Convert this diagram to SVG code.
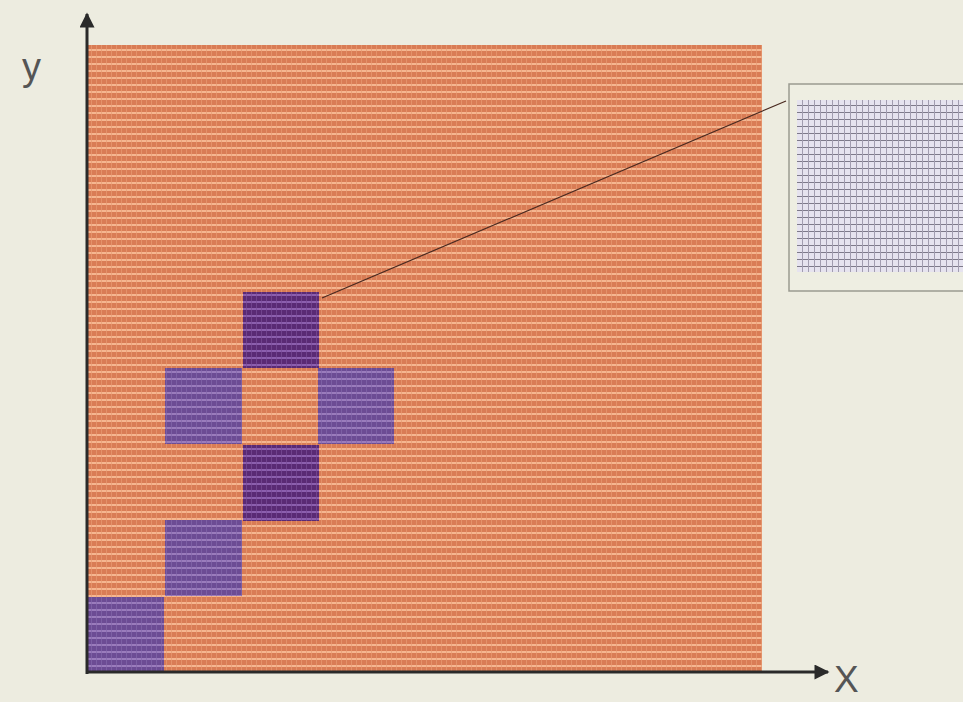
<svg xmlns="http://www.w3.org/2000/svg" width="963" height="702" viewBox="0 0 963 702">
<style>
.axis{stroke:#2a2a2a;stroke-width:3;fill:none}
.lbl{font-family:"Liberation Sans",Arial,sans-serif;fill:#555;}
</style>
<defs>
<pattern id="orange" width="5" height="7" patternUnits="userSpaceOnUse" x="87" y="45">
<rect width="5" height="7" fill="#d97c55"/>
<rect y="4" width="5" height="2" fill="#f5b690"/>
<rect x="4" width="1" height="7" fill="#e89b74" opacity="0.7"/>
</pattern>
<pattern id="purpleDark" width="5" height="7" patternUnits="userSpaceOnUse" x="87" y="45">
<rect width="5" height="7" fill="#5a2a74"/>
<rect y="4" width="5" height="2" fill="#8c5fae"/>
<rect x="4" width="1" height="7" fill="#7a4d98" opacity="0.7"/>
</pattern>
<pattern id="purpleLight" width="5" height="7" patternUnits="userSpaceOnUse" x="87" y="45">
<rect width="5" height="7" fill="#6c4c94"/>
<rect y="4" width="5" height="2" fill="#9a7cbc"/>
<rect x="4" width="1" height="7" fill="#8468ac" opacity="0.7"/>
</pattern>
<pattern id="inset" width="6" height="7" patternUnits="userSpaceOnUse" x="797" y="100">
<rect width="6" height="7" fill="#e6e3ef"/>
<rect y="5" width="6" height="1" fill="#7e7a8a"/>
<rect x="5" width="1" height="7" fill="#a29db0"/>
</pattern>
<marker id="arr" viewBox="0 0 10 10" refX="9" refY="5" markerWidth="7" markerHeight="5" orient="auto" markerUnits="strokeWidth">
<path d="M0,0 L10,5 L0,10 z" fill="#2a2a2a"/>
</marker>
</defs>
<rect width="963" height="702" fill="#edece0"/>
<g id="grid">
<rect x="87" y="45" width="675" height="627" fill="url(#orange)"/>
</g>
<g id="cell-a"><rect x="87" y="597" width="77" height="75" fill="url(#purpleLight)"/></g>
<g id="cell-b"><rect x="165" y="520" width="77" height="76" fill="url(#purpleLight)"/></g>
<g id="cell-c"><rect x="243" y="445" width="76" height="76" fill="url(#purpleDark)"/></g>
<g id="cell-d"><rect x="165" y="368" width="77" height="76" fill="url(#purpleLight)"/></g>
<g id="cell-e"><rect x="318" y="368" width="76" height="76" fill="url(#purpleLight)"/></g>
<g id="cell-f"><rect x="243" y="292" width="76" height="76" fill="url(#purpleDark)"/></g>
<g id="inset-box">
<rect x="789" y="84" width="190" height="207" fill="#eeeee2" stroke="#9a9a90" stroke-width="1.5"/>
<rect x="797" y="100" width="170" height="172" fill="url(#inset)"/>
</g>
<g id="connectors">
<line x1="322" y1="298" x2="786" y2="101" stroke="#4a2a20" stroke-width="1.2"/>
<line class="axis" x1="87" y1="674" x2="87" y2="14" marker-end="url(#arr)"/>
<line class="axis" x1="86" y1="672" x2="828" y2="672" marker-end="url(#arr)"/>
</g>
<text class="lbl" x="22" y="80" font-size="38">y</text>
<text class="lbl" x="834" y="692" font-size="37">X</text>
</svg>
